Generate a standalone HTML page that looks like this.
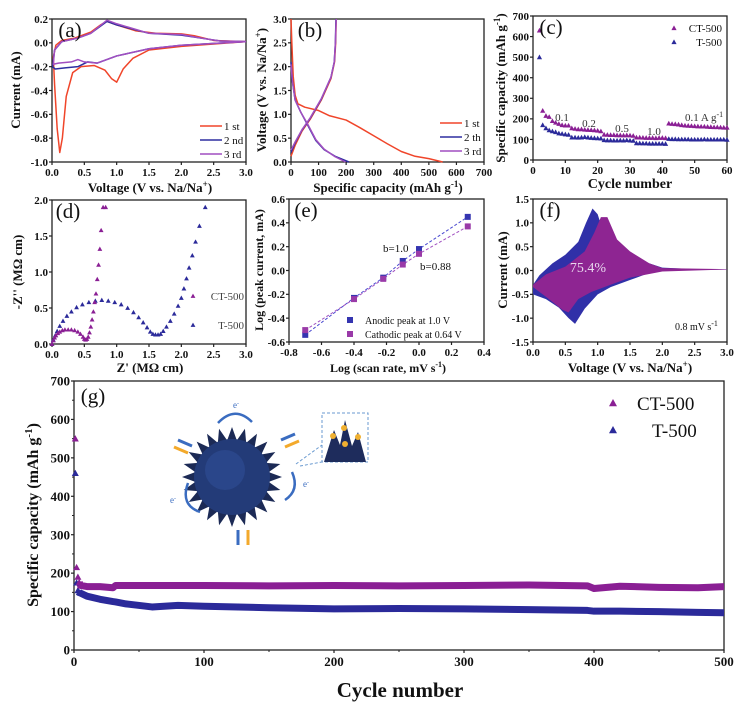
<!DOCTYPE html>
<html><head><meta charset="utf-8"><style>
html,body{margin:0;padding:0;background:#fff}
svg{display:block}
text{font-family:"Liberation Serif",serif}
</style></head><body>
<svg id="fig" width="745" height="705" viewBox="0 0 745 705" xmlns="http://www.w3.org/2000/svg"></svg>
<script>
// ---------- DATA ----------
// (a) CV curves [V, mA]
const aCycle1 = [[3.0,0.01],[2.5,-0.01],[2.0,-0.03],[1.5,-0.06],[1.25,-0.13],[1.1,-0.22],[1.0,-0.33],[0.92,-0.3],[0.82,-0.23],[0.65,-0.19],[0.45,-0.2],[0.32,-0.25],[0.22,-0.45],[0.16,-0.8],[0.12,-0.92],[0.08,-0.72],[0.04,-0.35],[0.02,-0.12],[0.06,-0.02],[0.15,0.02],[0.35,0.04],[0.6,0.09],[0.75,0.15],[0.85,0.18],[1.0,0.15],[1.3,0.1],[1.6,0.08],[2.0,0.075],[2.2,0.06],[2.5,0.02],[3.0,0.01]];
const aCycle2 = [[3.0,0.01],[2.0,-0.02],[1.5,-0.05],[1.0,-0.11],[0.7,-0.17],[0.55,-0.16],[0.4,-0.2],[0.2,-0.21],[0.05,-0.22],[0.01,-0.2],[0.04,-0.06],[0.15,0.01],[0.4,0.04],[0.6,0.08],[0.85,0.18],[1.0,0.15],[1.5,0.08],[2.0,0.065],[2.3,0.04],[2.6,0.015],[3.0,0.01]];
const aCycle3 = [[3.0,0.01],[2.0,-0.02],[1.5,-0.05],[1.0,-0.11],[0.7,-0.17],[0.5,-0.16],[0.4,-0.14],[0.3,-0.16],[0.1,-0.17],[0.02,-0.18],[0.04,-0.06],[0.15,0.01],[0.4,0.04],[0.6,0.08],[0.85,0.19],[1.0,0.16],[1.5,0.08],[2.0,0.07],[2.3,0.04],[2.6,0.015],[3.0,0.01]];
// (b) charge/discharge [mAh/g, V]
const b1Dis = [[0,3.0],[3,2.5],[8,1.8],[15,1.4],[25,1.22],[50,1.15],[100,1.08],[140,0.97],[200,0.88],[250,0.72],[300,0.55],[350,0.38],[400,0.22],[450,0.12],[500,0.07],[550,0.0]];
const b1Chg = [[0,0.12],[15,0.35],[40,0.65],[70,0.9],[110,1.3],[145,1.75],[158,2.1],[162,2.5],[164,3.0]];
const b2Dis = [[0,2.1],[5,1.7],[15,1.3],[35,1.05],[60,0.78],[90,0.45],[120,0.26],[160,0.12],[210,0.0]];
const b2Chg = [[0,0.2],[15,0.4],[40,0.67],[70,0.92],[110,1.32],[145,1.78],[157,2.1],[161,2.5],[163,3.0]];
const b3Dis = [[0,2.05],[5,1.7],[15,1.3],[35,1.05],[60,0.8],[90,0.47],[120,0.27],[160,0.11],[198,0.0]];
const b3Chg = [[0,0.25],[15,0.42],[40,0.68],[70,0.93],[110,1.33],[145,1.78],[157,2.1],[161,2.5],[164,3.0]];
// (c) rate performance
const cCycles = [2,3,4,5,6,7,8,9,10,11,12,13,14,15,16,17,18,19,20,21,22,23,24,25,26,27,28,29,30,31,32,33,34,35,36,37,38,39,40,41,42,43,44,45,46,47,48,49,50,51,52,53,54,55,56,57,58,59,60];
const cCT = [630,240,215,210,190,182,176,170,168,168,155,152,150,150,148,147,146,145,143,140,124,123,122,122,121,121,120,121,120,118,110,110,109,108,108,108,107,108,108,107,178,176,175,173,170,168,167,166,165,164,163,163,162,161,160,160,159,158,158];
const cT = [500,170,155,145,140,136,130,128,125,123,110,110,109,110,112,110,108,107,106,105,97,96,96,95,95,96,95,97,95,94,82,82,81,81,80,80,80,80,80,79,103,102,102,101,101,101,101,100,100,100,100,101,100,100,100,100,100,100,99];
// (d) Nyquist
const dCTx = [0.0,0.02,0.04,0.06,0.09,0.12,0.16,0.2,0.25,0.3,0.35,0.4,0.44,0.48,0.5,0.52,0.54,0.56,0.58,0.6,0.62,0.64,0.66,0.68,0.7,0.72,0.74,0.76,0.79,0.83];
const dCTy = [0.0,0.05,0.09,0.12,0.15,0.17,0.19,0.2,0.2,0.2,0.19,0.17,0.14,0.1,0.07,0.06,0.07,0.1,0.16,0.24,0.34,0.45,0.58,0.7,0.9,1.1,1.32,1.58,1.9,1.9];
const dTx = [0.0,0.02,0.05,0.08,0.12,0.17,0.23,0.3,0.38,0.47,0.57,0.67,0.77,0.87,0.97,1.07,1.17,1.26,1.34,1.41,1.47,1.52,1.56,1.6,1.64,1.68,1.72,1.77,1.83,1.89,1.95,2.0,2.04,2.08,2.12,2.17,2.22,2.28,2.37];
const dTy = [0.0,0.06,0.12,0.18,0.25,0.32,0.39,0.45,0.51,0.55,0.58,0.6,0.61,0.6,0.58,0.55,0.5,0.44,0.37,0.3,0.23,0.17,0.14,0.13,0.13,0.14,0.18,0.24,0.32,0.42,0.53,0.64,0.77,0.91,1.06,1.23,1.42,1.64,1.9];
// (e) log i vs log v
const eX = [-0.7,-0.4,-0.22,-0.1,0.0,0.3];
const eAnodic = [-0.54,-0.23,-0.06,0.08,0.18,0.45];
const eCathodic = [-0.5,-0.24,-0.07,0.05,0.14,0.37];
// (f) capacitive contribution
const fTotal = [[0,-0.3],[0.1,-0.1],[0.3,0.15],[0.5,0.33],[0.7,0.6],[0.82,1.0],[0.92,1.3],[1.0,1.18],[1.1,0.75],[1.3,0.42],[1.5,0.28],[1.8,0.15],[2.0,0.06],[2.5,0.03],[3.0,0.03],[3.0,0.02],[2.0,0.0],[1.8,-0.05],[1.5,-0.2],[1.2,-0.35],[1.0,-0.5],[0.8,-0.8],[0.65,-1.12],[0.55,-1.0],[0.4,-0.78],[0.2,-0.6],[0,-0.5]];
const fCap = [[0,-0.3],[0.2,-0.08],[0.5,0.08],[0.8,0.4],[0.95,0.8],[1.05,1.12],[1.15,1.12],[1.3,0.65],[1.5,0.4],[1.8,0.15],[2.0,0.05],[3.0,0.03],[3.0,0.02],[2.0,-0.02],[1.5,-0.15],[1.2,-0.3],[0.9,-0.45],[0.7,-0.6],[0.55,-0.88],[0.45,-0.82],[0.2,-0.55],[0,-0.35]];
// (g) long cycling
const gCyc = [1,2,3,4,5,10,20,30,32,40,60,80,100,150,200,250,300,350,395,400,420,450,480,500];
const gCT = [550,215,190,176,168,165,165,162,168,168,168,168,168,167,168,167,168,169,167,160,166,163,162,165];
const gT = [460,175,155,150,148,140,132,126,125,120,112,116,114,110,107,108,107,105,103,101,101,100,98,97];

// ---------- HELPERS ----------
const NS = "http://www.w3.org/2000/svg";
const svg = document.getElementById('fig');
function el(tag, attrs, parent){
  const e = document.createElementNS(NS, tag);
  for (const k in attrs) e.setAttribute(k, attrs[k]);
  (parent||svg).appendChild(e); return e;
}
function txt(s, x, y, size, opts, parent){
  opts = opts||{};
  const t = el('text', {x:x, y:y, 'font-size':size, 'font-weight':opts.w||'bold', 'text-anchor':opts.a||'middle', fill:opts.fill||'#111'}, parent);
  if (opts.rot) t.setAttribute('transform', 'rotate(-90 '+x+' '+y+')');
  t.innerHTML = s; return t;
}
function scale(d0,d1,r0,r1){ return v => r0 + (v-d0)/(d1-d0)*(r1-r0); }
function panel(name, box, xd, yd, xt, yt, fs, fmtX, fmtY, minor){
  const g = el('g', {});
  
  
  const sx = scale(xd[0],xd[1],box[0],box[2]);
  const sy = scale(yd[0],yd[1],box[3],box[1]);
  const fr = el('rect', {x:box[0], y:box[1], width:box[2]-box[0], height:box[3]-box[1], fill:'none', stroke:'#222', 'stroke-width':1.3}, g);
  
  
  const xa = el('g', {}, g);
  
  
  xt.forEach(v => {
    el('line', {x1:sx(v), x2:sx(v), y1:box[3], y2:box[3]+3, stroke:'#222', 'stroke-width':1.2}, xa);
    txt(fmtX(v), sx(v), box[3]+fs+3, fs, {}, xa);
  });
  const ya = el('g', {}, g);
  
  
  yt.forEach(v => {
    el('line', {x1:box[0], x2:box[0]-3, y1:sy(v), y2:sy(v), stroke:'#222', 'stroke-width':1.2}, ya);
    txt(fmtY(v), box[0]-4, sy(v)+fs*0.35, fs, {a:'end'}, ya);
  });
  if (minor){
    minor[0].forEach(v => el('line', {x1:sx(v), x2:sx(v), y1:box[3], y2:box[3]+2, stroke:'#222'}, xa));
    minor[1].forEach(v => el('line', {x1:box[0], x2:box[0]-2, y1:sy(v), y2:sy(v), stroke:'#222'}, ya));
  }
  return {g, sx, sy};
}
function rng(a,b,s){ const r=[]; for(let v=a; v<=b+1e-9; v+=s) r.push(+v.toFixed(4)); return r; }
const f1 = v => v.toFixed(1), f0 = v => String(Math.round(v));
function line(P, pts, color, name, w, dash){
  const p = el('polyline', {points: pts.map(q => P.sx(q[0])+','+P.sy(q[1])).join(' '), fill:'none', stroke:color, 'stroke-width':w||1.5, 'stroke-linejoin':'round'}, P.g);
  if (dash) p.setAttribute('stroke-dasharray', dash);
  
  
  return p;
}
function tri(x,y,s,color,parent){
  return el('polygon', {points:(x)+','+(y-s)+' '+(x-s)+','+(y+s*0.8)+' '+(x+s)+','+(y+s*0.8), fill:color}, parent);
}
const RED='#f0452a', BLUE='#2e2ea0', VIO='#a14fc0', PUR='#8a1f94', NAVY='#2b2a9a';

// ---------- (a) ----------
let P = panel('panel-a', [52,19,246,162], [0,3], [-1,0.2], rng(0,3,0.5), rng(-1,0.2,0.2), 11, f1, f1);
line(P, aCycle1, RED, 'cv-cycle-1');
line(P, aCycle2, BLUE, 'cv-cycle-2');
line(P, aCycle3, VIO, 'cv-cycle-3');
txt('(a)', 70, 37, 21, {w:'normal'}, P.g);
txt('Current (mA)', 20, 90, 13, {rot:1}, P.g);
txt('Voltage (V vs. Na/Na<tspan dy="-5" font-size="9">+</tspan><tspan dy="5">)</tspan>', 150, 192, 13, {}, P.g);
[['1 st',RED],['2 nd',BLUE],['3 rd',VIO]].forEach((L,i) => {
  const lg = el('g', {}, P.g);
  
  
  el('line', {x1:200, x2:222, y1:126+i*14, y2:126+i*14, stroke:L[1], 'stroke-width':1.6}, lg);
  txt(L[0], 224, 130+i*14, 11, {a:'start', w:'normal'}, lg);
});

// ---------- (b) ----------
P = panel('panel-b', [291,19,484,162], [0,700], [0,3], rng(0,700,100), rng(0,3,0.5), 11, f0, f1);
line(P, b1Dis, RED, 'discharge-1'); line(P, b1Chg, RED, 'charge-1');
line(P, b2Dis, BLUE, 'discharge-2'); line(P, b2Chg, BLUE, 'charge-2');
line(P, b3Dis, VIO, 'discharge-3'); line(P, b3Chg, VIO, 'charge-3');
txt('(b)', 310, 37, 21, {w:'normal'}, P.g);
txt('Voltage (V vs. Na/Na<tspan dy="-5" font-size="9">+</tspan><tspan dy="5">)</tspan>', 266, 90, 13, {rot:1}, P.g);
txt('Specific capacity (mAh g<tspan dy="-5" font-size="9">-1</tspan><tspan dy="5">)</tspan>', 388, 192, 13, {}, P.g);
[['1 st',RED],['2 th',BLUE],['3 rd',VIO]].forEach((L,i) => {
  const lg = el('g', {}, P.g);
  
  
  el('line', {x1:440, x2:462, y1:123+i*14, y2:123+i*14, stroke:L[1], 'stroke-width':1.6}, lg);
  txt(L[0], 464, 127+i*14, 11, {a:'start', w:'normal'}, lg);
});

// ---------- (c) ----------
P = panel('panel-c', [533,16,727,160], [0,60], [0,700], rng(0,60,10), rng(0,700,100), 11, f0, f0);
cCycles.forEach((c,i) => {
  const t1 = tri(P.sx(c), P.sy(cCT[i]), 2.6, PUR, P.g);
  
  
  const t2 = tri(P.sx(c), P.sy(cT[i]), 2.6, NAVY, P.g);
  
  
});
txt('(c)', 551, 34, 21, {w:'normal'}, P.g);
txt('Specific capacity (mAh g<tspan dy="-5" font-size="9">-1</tspan><tspan dy="5">)</tspan>', 505, 88, 13, {rot:1}, P.g);
txt('Cycle number', 630, 188, 14, {}, P.g);
[['0.1',562,121],['0.2',589,127],['0.5',622,132],['1.0',654,135]].forEach(a => txt(a[0], a[1], a[2], 11, {w:'normal', fill:'#333'}, P.g));
txt('0.1 A g<tspan dy="-4" font-size="8">-1</tspan>', 685, 121, 11, {w:'normal', a:'start', fill:'#333'}, P.g);
tri(674, 28, 2.6, PUR, P.g); txt('CT-500', 722, 32, 11, {w:'normal', a:'end'}, P.g);
tri(674, 42, 2.6, NAVY, P.g); txt('T-500', 722, 46, 11, {w:'normal', a:'end'}, P.g);

// ---------- (d) ----------
P = panel('panel-d', [52,200,246,344], [0,3], [0,2], rng(0,3,0.5), rng(0,2,0.5), 11, f1, f1);
dTx.forEach((x,i) => { const t = tri(P.sx(x), P.sy(dTy[i]), 2.4, NAVY, P.g);   });
dCTx.forEach((x,i) => { const t = tri(P.sx(x), P.sy(dCTy[i]), 2.4, PUR, P.g);   });
txt('(d)', 68, 218, 21, {w:'normal'}, P.g);
txt('-Z\'\' (MΩ cm)', 22, 272, 13, {rot:1}, P.g);
txt('Z\' (MΩ cm)', 150, 372, 13, {}, P.g);
tri(193, 296, 2.4, PUR, P.g); txt('CT-500', 244, 300, 11, {w:'normal', a:'end', fill:'#444'}, P.g);
tri(193, 325, 2.4, NAVY, P.g); txt('T-500', 244, 329, 11, {w:'normal', a:'end', fill:'#444'}, P.g);

// ---------- (e) ----------
P = panel('panel-e', [289,199,484,342], [-0.8,0.4], [-0.6,0.6], rng(-0.8,0.4,0.2), rng(-0.6,0.6,0.2), 11, f1, f1);
line(P, eX.map((x,i)=>[x,eAnodic[i]]), '#4a4ad0', 'anodic-fit', 1, '3,2');
line(P, eX.map((x,i)=>[x,eCathodic[i]]), '#a050c0', 'cathodic-fit', 1, '3,2');
eX.forEach((x,i) => {
  const a = el('rect', {x:P.sx(x)-3, y:P.sy(eAnodic[i])-3, width:6, height:6, fill:'#3535b0'}, P.g);
   
  const c = el('rect', {x:P.sx(x)-3, y:P.sy(eCathodic[i])-3, width:6, height:6, fill:'#9a3aa8'}, P.g);
   
});
txt('(e)', 306, 217, 21, {w:'normal'}, P.g);
txt('Log (peak current, mA)', 263, 270, 12, {rot:1}, P.g);
txt('Log (scan rate, mV s<tspan dy="-5" font-size="8">-1</tspan><tspan dy="5">)</tspan>', 388, 372, 12, {}, P.g);
txt('b=1.0', 383, 252, 11, {w:'normal', a:'start'}, P.g);
txt('b=0.88', 420, 270, 11, {w:'normal', a:'start'}, P.g);
el('rect', {x:347, y:317, width:6, height:6, fill:'#3535b0'}, P.g);
txt('Anodic peak at 1.0 V', 365, 324, 10, {w:'normal', a:'start'}, P.g);
el('rect', {x:347, y:331, width:6, height:6, fill:'#9a3aa8'}, P.g);
txt('Cathodic peak at 0.64 V', 365, 338, 10, {w:'normal', a:'start'}, P.g);

// ---------- (f) ----------
P = panel('panel-f', [533,199,727,342], [0,3], [-1.5,1.5], rng(0,3,0.5), rng(-1.5,1.5,0.5), 11, f1, f1);
let pg = el('polygon', {points: fTotal.map(q=>P.sx(q[0])+','+P.sy(q[1])).join(' '), fill:'#3030a8'}, P.g);
 
pg = el('polygon', {points: fCap.map(q=>P.sx(q[0])+','+P.sy(q[1])).join(' '), fill:'#8e2592'}, P.g);
 
txt('(f)', 550, 217, 21, {w:'normal'}, P.g);
txt('75.4%', 588, 272, 14, {w:'normal', fill:'#e8d8ee'}, P.g);
txt('0.8 mV s<tspan dy="-4" font-size="8">-1</tspan>', 675, 330, 10, {w:'normal', a:'start'}, P.g);
txt('Current (mA)', 507, 270, 13, {rot:1}, P.g);
txt('Voltage (V vs. Na/Na<tspan dy="-5" font-size="9">+</tspan><tspan dy="5">)</tspan>', 630, 372, 13, {}, P.g);

// ---------- (g) ----------
P = panel('panel-g', [74,381,724,650], [0,500], [0,700], rng(0,500,100), rng(0,700,100), 13, f0, f0, [rng(50,450,100), rng(50,650,100)]);
line(P, gCyc.slice(3).map((c,i)=>[c,gCT[i+3]]), PUR, 'ct500-cycling-band', 7);
line(P, gCyc.slice(3).map((c,i)=>[c,gT[i+3]]), NAVY, 't500-cycling-band', 7);
gCyc.slice(0,5).forEach((c,i) => {
  const a = tri(P.sx(c), P.sy(gCT[i]), 3.5, PUR, P.g);  
  const b = tri(P.sx(c), P.sy(gT[i]), 3.5, NAVY, P.g);  
});
txt('(g)', 93, 403, 21, {w:'normal'}, P.g);
txt('Specific capacity (mAh g<tspan dy="-6" font-size="11">-1</tspan><tspan dy="6">)</tspan>', 38, 515, 16, {rot:1}, P.g);
txt('Cycle number', 400, 697, 21, {}, P.g);
tri(613, 403, 4, PUR, P.g); txt('CT-500', 637, 410, 19, {w:'normal', a:'start'}, P.g);
tri(613, 430, 4, NAVY, P.g); txt('T-500', 652, 437, 19, {w:'normal', a:'start'}, P.g);

// inset illustration
const ins = el('g', {});


let pts = [];
for (let k=0;k<48;k++){ const a = k*Math.PI/24; const r = (k%2===0)?50:37; pts.push((232+r*Math.cos(a))+','+(477+r*Math.sin(a))); }
el('polygon', {points:pts.join(' '), fill:'#1c2a55'}, ins);
el('circle', {cx:232, cy:477, r:38, fill:'#233b78'}, ins);
el('circle', {cx:225, cy:470, r:20, fill:'#2d4c92', opacity:0.7}, ins);
el('path', {d:'M218 423 Q235 405 252 422', fill:'none', stroke:'#3a6cc0', 'stroke-width':2.5}, ins);
el('path', {d:'M188 483 Q180 505 200 512', fill:'none', stroke:'#3a6cc0', 'stroke-width':2.5}, ins);
el('path', {d:'M292 472 Q300 490 285 500', fill:'none', stroke:'#3a6cc0', 'stroke-width':2.5}, ins);
txt('e<tspan dy="-3" font-size="6">-</tspan>', 236, 408, 9, {w:'normal', fill:'#3a6cc0'}, ins);
txt('e<tspan dy="-3" font-size="6">-</tspan>', 173, 503, 9, {w:'normal', fill:'#3a6cc0'}, ins);
txt('e<tspan dy="-3" font-size="6">-</tspan>', 306, 487, 9, {w:'normal', fill:'#3a6cc0'}, ins);
el('line', {x1:178, y1:440, x2:192, y2:446, stroke:'#3a6cc0', 'stroke-width':3}, ins);
el('line', {x1:188, y1:453, x2:174, y2:447, stroke:'#f3a92b', 'stroke-width':3}, ins);
el('line', {x1:281, y1:440, x2:295, y2:434, stroke:'#3a6cc0', 'stroke-width':3}, ins);
el('line', {x1:299, y1:441, x2:285, y2:447, stroke:'#f3a92b', 'stroke-width':3}, ins);
el('line', {x1:238, y1:545, x2:238, y2:530, stroke:'#3a6cc0', 'stroke-width':3}, ins);
el('line', {x1:248, y1:530, x2:248, y2:545, stroke:'#f3a92b', 'stroke-width':3}, ins);
el('rect', {x:322, y:413, width:46, height:49, fill:'none', stroke:'#6a9ad0', 'stroke-width':1, 'stroke-dasharray':'3,2'}, ins);
el('polygon', {points:'324,462 334,430 340,445 345,420 352,446 358,432 366,462', fill:'#1e2c5c'}, ins);
[[333,436],[344,428],[345,444],[358,437]].forEach(c => el('circle', {cx:c[0], cy:c[1], r:3, fill:'#f0b030'}, ins));
el('line', {x1:296, y1:464, x2:322, y2:445, stroke:'#6a9ad0', 'stroke-dasharray':'3,2'}, ins);
el('line', {x1:300, y1:466, x2:322, y2:462, stroke:'#6a9ad0', 'stroke-dasharray':'3,2'}, ins);
</script>
</body></html>
